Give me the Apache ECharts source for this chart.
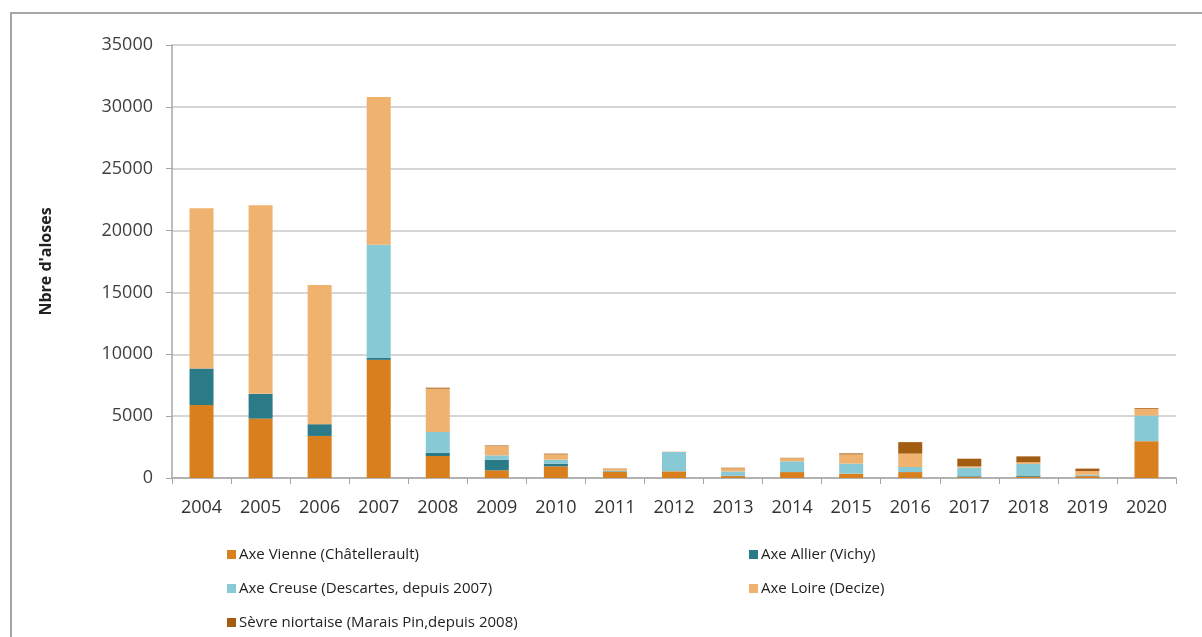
<!DOCTYPE html>
<html>
<head>
<meta charset="utf-8">
<script src="https://cdn.jsdelivr.net/npm/echarts@6/dist/echarts.min.js"></script>
<style>
  html, body { margin: 0; padding: 0; background: #fff; }
  #alosesChart { width: 1202px; height: 637px; }
</style>
</head>
<body>
<div id="alosesChart"></div>
<script>
// années
const years = ['2004', '2005', '2006', '2007', '2008', '2009', '2010', '2011', '2012',
  '2013', '2014', '2015', '2016', '2017', '2018', '2019', '2020'];

// nombre d'aloses par axe
const vienne = [5900, 4800, 3400, 9550, 1780, 620, 940, 500, 540, 150, 480, 350, 480, 80, 100, 150, 2980];
const allier = [2950, 2000, 950, 150, 270, 860, 220, 40, 0, 30, 0, 0, 0, 60, 100, 30, 0];
const creuse = [0, 0, 0, 9150, 1670, 350, 320, 40, 1560, 350, 870, 810, 410, 700, 940, 80, 2070];
const loire = [12950, 15250, 11250, 11950, 3500, 750, 430, 150, 30, 250, 250, 750, 1080, 100, 130, 300, 550];
const sevre = [0, 0, 0, 0, 80, 50, 60, 30, 0, 50, 30, 80, 930, 620, 480, 200, 60];

const yTicks = [0, 5000, 10000, 15000, 20000, 25000, 30000, 35000];

const names = [
  'Axe Vienne (Châtellerault)',
  'Axe Allier (Vichy)',
  'Axe Creuse (Descartes, depuis 2007)',
  'Axe Loire (Decize)',
  'Sèvre niortaise (Marais Pin,depuis 2008)'
];
const colors = ['#d97f1e', '#2b7a87', '#88c9d6', '#f0b26f', '#a35d12'];
const values = [vienne, allier, creuse, loire, sevre];

const font = '"Open Sans", "DejaVu Sans", sans-serif';

// positions des légendes (2 colonnes)
const legendPos = [[222, 542], [744, 542], [222, 576], [744, 576], [222, 610]];

let option = {
  animation: false,
  backgroundColor: '#fff',
  graphic: [{
    type: 'polyline',
    shape: { points: [[11, 640], [11, 13], [1202, 13]] },
    style: { stroke: '#a6a6a6', lineWidth: 2, fill: null }
  }],
  legend: names.map((n, i) => ({
    data: [n],
    left: legendPos[i][0],
    top: legendPos[i][1],
    icon: 'rect',
    itemWidth: 9,
    itemHeight: 9,
    itemGap: 4,
    selectedMode: false,
    textStyle: { fontFamily: font, fontSize: 15, color: '#222', padding: [0, 0, 0, -2] }
  })),
  grid: {
    left: 172,
    right: 26,
    top: 45,
    bottom: 159
  },
  xAxis: {
    type: 'category',
    data: years,
    axisLine: { lineStyle: { color: '#a6a6a6', width: 1.5 } },
    axisTick: { show: true, length: 6, lineStyle: { color: '#a6a6a6' } },
    axisLabel: { fontFamily: font, fontSize: 18, color: '#333', margin: 21 }
  },
  yAxis: {
    type: 'value',
    min: 0,
    max: yTicks[yTicks.length - 1],
    interval: yTicks[1] - yTicks[0],
    name: "Nbre d'aloses",
    nameLocation: 'middle',
    nameGap: 118,
    nameTextStyle: { fontFamily: font, fontSize: 16, fontWeight: 'bold', color: '#222' },
    axisLine: { show: true, lineStyle: { color: '#a6a6a6', width: 1.5 } },
    axisTick: { show: true, length: 6, lineStyle: { color: '#a6a6a6' } },
    splitLine: { lineStyle: { color: '#c8c8c8', width: 1.5 } },
    axisLabel: { fontFamily: font, fontSize: 18, color: '#404040', margin: 19,
      formatter: v => String(v) }
  },
  series: names.map((n, i) => ({
    name: n,
    type: 'bar',
    stack: 'total',
    barWidth: 24,
    itemStyle: { color: colors[i] },
    data: values[i]
  }))
};

let myChart = echarts.init(document.getElementById('alosesChart'));
myChart.setOption(option, true);
</script>
</body>
</html>
